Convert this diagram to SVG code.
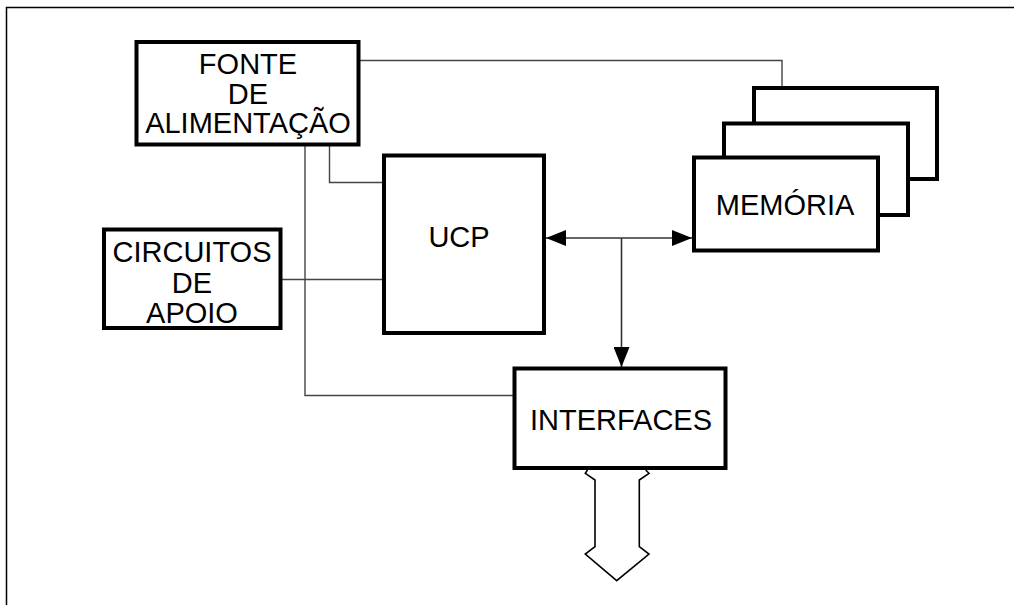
<svg xmlns="http://www.w3.org/2000/svg" width="1014" height="605" viewBox="0 0 1014 605">
<style>
.box{fill:#fff;stroke:#000;stroke-width:4}
.t{font-family:"Liberation Sans",Arial,sans-serif;font-size:29px;fill:#000;text-anchor:middle}
.w{fill:none;stroke:#444;stroke-width:1.4}
.bus{fill:none;stroke:#333;stroke-width:1.6}
</style>
<defs>
<marker id="ah" viewBox="0 0 20 16" refX="20" refY="8" markerWidth="20" markerHeight="16" markerUnits="userSpaceOnUse" orient="auto-start-reverse">
<path d="M0,0 L20,8 L0,16 Z" fill="#000"/>
</marker>
</defs>
<rect width="1014" height="605" fill="#fff"/>
<path d="M6.5,605 V7.5 H1014" fill="none" stroke="#000" stroke-width="1.5"/>
<g id="connectors">
<path class="w" d="M360,60.5 H782 V88"/>
<path class="w" d="M329.5,146 V182.5 H384"/>
<path class="w" d="M305,146 V395.5 H514"/>
<path class="w" d="M282,279.5 H384"/>
<path class="bus" d="M546,238 H692" marker-start="url(#ah)" marker-end="url(#ah)"/>
<path class="bus" d="M621.5,238 V367" marker-end="url(#ah)"/>
</g>
<g id="memoria">
<rect class="box" x="754" y="88" width="183" height="91"/>
<rect class="box" x="724" y="123.5" width="184" height="91.5"/>
<rect class="box" x="694" y="157.5" width="184" height="93"/>
<text class="t" x="785" y="215">MEMÓRIA</text>
</g>
<g id="fonte">
<rect class="box" x="136.5" y="42" width="222" height="102.5"/>
<text class="t" x="248" y="74">FONTE</text>
<text class="t" x="248" y="103.5">DE</text>
<text class="t" x="248" y="132.5">ALIMENTAÇÃO</text>
</g>
<g id="ucp">
<rect class="box" x="384" y="155.5" width="160" height="177.5"/>
<text class="t" x="459" y="246.5">UCP</text>
</g>
<g id="circuitos">
<rect class="box" x="104" y="229.5" width="176.5" height="98.5"/>
<text class="t" x="192" y="261.5">CIRCUITOS</text>
<text class="t" x="192" y="292.5">DE</text>
<text class="t" x="192" y="322.5">APOIO</text>
</g>
<g id="interfaces">
<rect class="box" x="514.5" y="368.5" width="211" height="99.5"/>
<text class="t" x="621" y="429.5">INTERFACES</text>
</g>
<g id="saida">
<path d="M587.5,470 L585.3,473.3 L595,480 V546.7 L585.3,554 L616.7,580.7 L649,554 L639.3,546.7 V480 L649,473.3 L645.7,470" fill="#fff" stroke="#000" stroke-width="1.6" stroke-linejoin="miter"/>
</g>
</svg>
